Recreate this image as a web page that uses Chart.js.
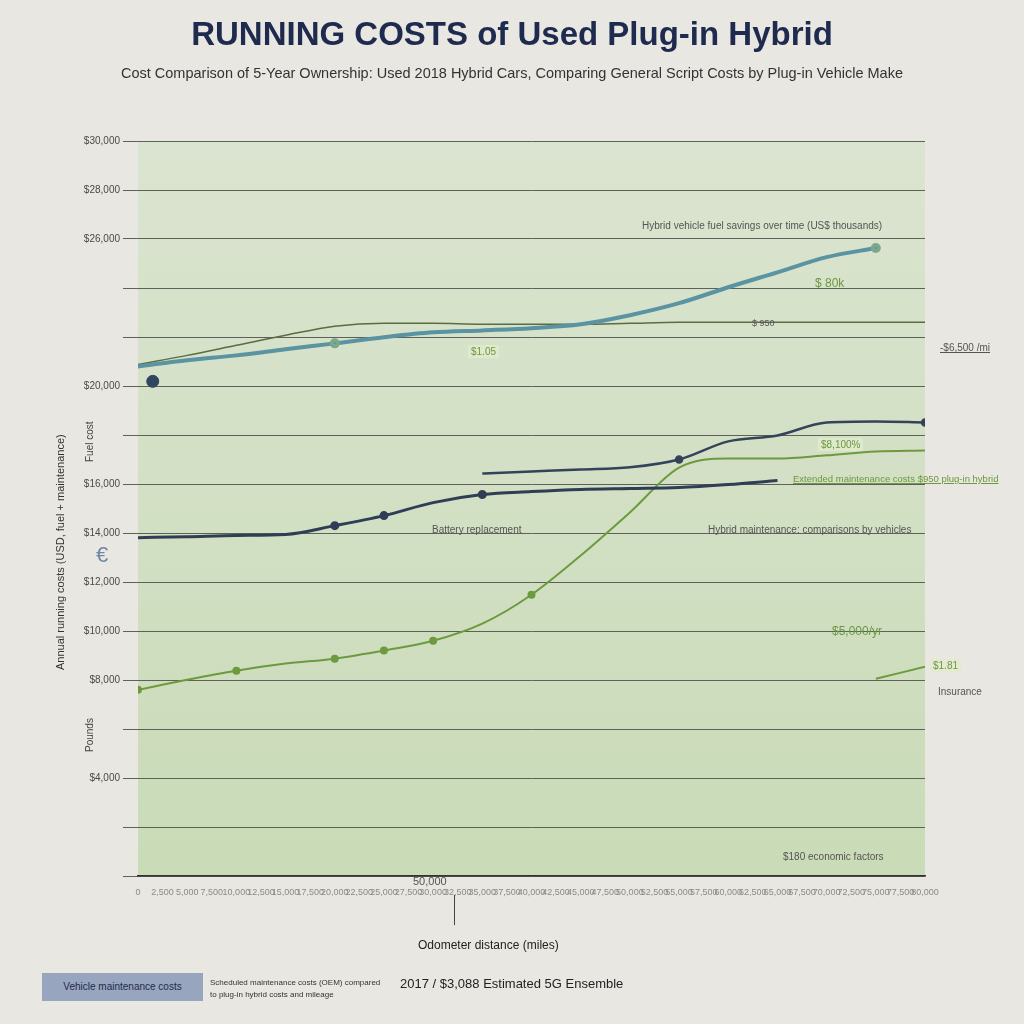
<!DOCTYPE html>
<html>
<head>
<meta charset="utf-8">
<script src="https://cdn.jsdelivr.net/npm/chart.js@4.4.1/dist/chart.umd.min.js"></script>
<style>
    body { margin: 0; background: #e9e7e2; font-family: "Liberation Sans", Arial, sans-serif; }
    #wrap { position: relative; width: 1024px; height: 1024px; overflow: hidden; }
    #chart { position: absolute; left: 0; top: 0; }
    .t { position: absolute; white-space: nowrap; color: #444; }
    .title { left: 0; width: 1024px; top: 15px; text-align: center; font-weight: bold; font-size: 33px; color: #1f2a4f; }
    .sub { left: 0; width: 1024px; top: 65px; text-align: center; font-size: 14.5px; color: #333; }
    .vert { transform-origin: left top; transform: rotate(-90deg); }
    .note { font-size: 10px; color: #555; }
    .green { color: #6d9740; }
    .box { background: rgba(225, 235, 205, 0.8); padding: 1px 3px; }
    #legendBox { position: absolute; left: 42px; top: 973px; width: 161px; height: 28px; background: #98a5be; font-size: 10px; color: #1f2a4f; line-height: 28px; text-align: center; }
</style>
</head>
<body>
<div id="wrap">
    <canvas id="chart" width="1024" height="1024"></canvas>

    <div class="t title">RUNNING COSTS of Used Plug-in Hybrid</div>
    <div class="t sub">Cost Comparison of 5-Year Ownership: Used 2018 Hybrid Cars, Comparing General Script Costs by Plug-in Vehicle Make</div>

    <div class="t vert" style="left:54px; top:670px; font-size:11px; color:#333;">Annual running costs (USD, fuel + maintenance)</div>
    <div class="t vert" style="left:84px; top:752px; font-size:10px;">Pounds</div>
    <div class="t vert" style="left:84px; top:462px; font-size:10px;">Fuel cost</div>
    <div class="t" style="left:96px; top:542px; font-size:22px; color:#6f86aa;">€</div>

    <div class="t note" style="left:642px; top:220px;">Hybrid vehicle fuel savings over time (US$ thousands)</div>
    <div class="t note green box" style="left:468px; top:345px;">$1.05</div>
    <div class="t note green" style="left:815px; top:276px; font-size:12px;">$ 80k</div>
    <div class="t note" style="left:752px; top:318px; font-size:9px;">$ 950</div>
    <div class="t note" style="left:940px; top:342px; text-decoration:underline;">-$6,500 /mi</div>
    <div class="t note green box" style="left:818px; top:438px;">$8,100%</div>
    <div class="t note green" style="left:793px; top:473px; font-size:9.5px; text-decoration:underline;">Extended maintenance costs $950 plug-in hybrid</div>
    <div class="t note" style="left:432px; top:524px;">Battery replacement</div>
    <div class="t note" style="left:708px; top:524px;">Hybrid maintenance: comparisons by vehicles</div>
    <div class="t note green" style="left:832px; top:624px; font-size:12px;">$5,000/yr</div>
    <div class="t note green box" style="left:930px; top:659px;">$1.81</div>
    <div class="t note" style="left:938px; top:686px;">Insurance</div>
    <div class="t note" style="left:783px; top:851px;">$180 economic factors</div>
    <div class="t note" style="left:413px; top:875px; font-size:11px;">50,000</div>
    <div class="t" style="left:454px; top:895px; width:1px; height:30px; background:#444;"></div>
    <div class="t" style="left:418px; top:938px; font-size:12px; color:#222;">Odometer distance (miles)</div>

    <div id="legendBox">Vehicle maintenance costs</div>
    <div class="t" style="left:210px; top:977px; font-size:8px; line-height:12px; color:#333;">Scheduled maintenance costs (OEM) compared<br>to plug-in hybrid costs and mileage</div>
    <div class="t" style="left:400px; top:976px; font-size:13px; color:#222;">2017 / $3,088 Estimated 5G Ensemble</div>
</div>

<script>
// odometer positions (miles)
const mileage = [0, 5000, 10000, 15000, 20000, 25000, 30000, 35000, 40000, 45000, 50000, 55000, 60000, 65000, 70000, 75000, 80000];

// annual running cost in US$
const tealCost = [20800, 21050, 21250, 21500, 21740, 21990, 22190, 22270, 22360, 22520, 22890, 23380, 24030, 24640, 25260, 25630, null];
const oliveCost = [20880, 21250, 21660, 22070, 22440, 22560, 22560, 22520, 22520, 22520, 22560, 22600, 22600, 22600, 22600, 22600, 22600];
const navyCost = [13810, 13850, 13900, 13940, 14300, 14710, 15240, 15570, 15690, 15780, 15820, 15860, 15980, 16140, null, null, null];
const slateCost = [null, null, null, null, null, null, null, 16430, 16510, 16590, 16680, 17000, 17740, 17980, 18510, 18550, 18510];
const greenCost = [7600, 8010, 8380, 8670, 8870, 9200, 9600, 10300, 11480, 13080, 14840, 16670, 17040, 17040, 17170, 17330, 17370];
const insuranceCost = [null, null, null, null, null, null, null, null, null, null, null, null, null, null, null, 8050, 8540];
const startMarker = [{ x: 1500, y: 20190 }];

const yTicks = [0, 2000, 4000, 6000, 8000, 10000, 12000, 14000, 16000, 18000, 20000, 22000, 24000, 26000, 28000, 30000];
const yLabelled = [4000, 8000, 10000, 12000, 14000, 16000, 20000, 26000, 28000, 30000];

function pts(values) {
    return mileage.map((m, i) => ({ x: m, y: values[i] }));
}

function radii(values, marked) {
    return values.map((v, i) => marked.includes(i) ? 3 : 0);
}

const plotBg = {
    id: 'plotBg',
    beforeDraw(chart) {
        const { ctx, chartArea: a } = chart;
        const g = ctx.createLinearGradient(0, a.top, 0, a.bottom);
        g.addColorStop(0, '#dbe4d0');
        g.addColorStop(1, '#c9dbb7');
        ctx.save();
        ctx.fillStyle = g;
        ctx.fillRect(a.left, a.top, a.right - a.left, a.bottom - a.top);
        ctx.restore();
    }
};

new Chart(document.getElementById('chart'), {
    type: 'line',
    data: {
        datasets: [
            { data: pts(tealCost), borderColor: '#5a93a2', backgroundColor: '#5a93a2', borderWidth: 4, pointRadius: radii(tealCost, [4, 15]), pointBorderColor: '#7aa88a' },
            { data: pts(oliveCost), borderColor: '#5d6b40', borderWidth: 1.5, pointRadius: 0 },
            { data: pts(navyCost), borderColor: '#2f3d55', backgroundColor: '#2f3d55', borderWidth: 3, pointRadius: radii(navyCost, [4, 5, 7]) },
            { data: pts(slateCost), borderColor: '#34435a', backgroundColor: '#34435a', borderWidth: 2.5, pointRadius: radii(slateCost, [11, 16]) },
            { data: pts(greenCost), borderColor: '#6d9a3e', backgroundColor: '#6d9a3e', borderWidth: 2, pointRadius: radii(greenCost, [0, 2, 4, 5, 6, 8]) },
            { data: pts(insuranceCost), borderColor: '#6d9a3e', borderWidth: 2, pointRadius: 0 },
            { type: 'scatter', data: startMarker, backgroundColor: '#2f4560', borderColor: '#2f4560', pointRadius: 6 }
        ]
    },
    options: {
        responsive: false,
        animation: false,
        cubicInterpolationMode: 'monotone',
        layout: { padding: { left: 78, right: 99, top: 141, bottom: 118 } },
        plugins: { legend: { display: false }, tooltip: { enabled: false } },
        scales: {
            x: {
                type: 'linear',
                min: 0,
                max: 80000,
                grid: { display: false },
                border: { color: '#333', width: 1.5 },
                ticks: {
                    stepSize: 2500,
                    autoSkip: false,
                    maxRotation: 0,
                    color: '#8a8a86',
                    font: { size: 9 },
                    callback: v => v.toLocaleString('en-US')
                },
                afterFit(s) { s.height = 30; s.paddingLeft = 0; s.paddingRight = 0; }
            },
            y: {
                min: 0,
                max: 30000,
                grid: { color: '#5c615a', lineWidth: 1, tickLength: 15 },
                border: { display: false },
                afterBuildTicks(s) { s.ticks = yTicks.map(v => ({ value: v })); },
                ticks: {
                    color: '#4a4a4a',
                    font: { size: 10 },
                    callback: v => yLabelled.includes(v) ? '$' + v.toLocaleString('en-US') : ''
                },
                afterFit(s) { s.width = 60; s.paddingTop = 0; s.paddingBottom = 0; }
            }
        }
    },
    plugins: [plotBg]
});
</script>
</body>
</html>
